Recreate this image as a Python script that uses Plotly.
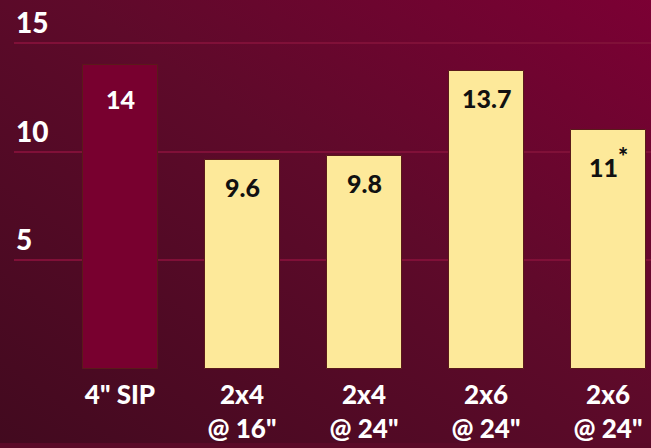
import base64
import plotly.graph_objects as go

categories = ['4" SIP', '2x4<br>@ 16"', '2x4<br>@ 24"', '2x6<br>@ 24"', '2x6<br>@ 24"']
values = [14, 9.6, 9.8, 13.7, 11]
value_labels = ['14', '9.6', '9.8', '13.7', '11<sup><span style="font-size:24px">*</span></sup>']
bar_colors = ['#78002f', '#fde99a', '#fde99a', '#fde99a', '#fde99a']
label_colors = ['#ffffff', '#111111', '#111111', '#111111', '#111111']
y_ticks = [5, 10, 15]

FONT = 'Lato'
x = list(range(len(categories)))

svg = '''<svg xmlns="http://www.w3.org/2000/svg" width="651" height="448" viewBox="0 0 651 448" preserveAspectRatio="none">
<defs><linearGradient id="g" x1="0" y1="1" x2="1" y2="0">
<stop offset="0" stop-color="#420a1f"/>
<stop offset="0.55" stop-color="#5e0a2a"/>
<stop offset="1" stop-color="#7c0034"/>
</linearGradient></defs>
<rect width="651" height="448" fill="url(#g)"/></svg>'''
bg_src = 'data:image/svg+xml;base64,' + base64.b64encode(svg.encode()).decode()

fig = go.Figure()
fig.add_trace(go.Bar(
    x=x, y=values, width=0.615,
    marker=dict(color=bar_colors, line=dict(color='#5a1a1a', width=1)),
    hoverinfo='skip',
))

annotations = []
for i, (xi, v, t, c) in enumerate(zip(x, values, value_labels, label_colors)):
    annotations.append(dict(
        x=xi, y=v, xref='x', yref='y', text=t, showarrow=False,
        yanchor='top', yshift=-17 if i == 0 else -10,
        font=dict(family=FONT, size=25, color=c, weight=900)))
for t in y_ticks:
    annotations.append(dict(
        x=0, xref='paper', y=t, yref='y', text='%d' % t, showarrow=False,
        xanchor='left', yanchor='bottom', yshift=2,
        font=dict(family=FONT, size=28, color='#ffffff', weight=900)))

fig.update_layout(
    width=651, height=448,
    margin=dict(l=14, r=0, t=32, b=79),
    paper_bgcolor='#5a0a28', plot_bgcolor='rgba(0,0,0,0)',
    images=[dict(source=bg_src, xref='paper', yref='paper', x=-0.03, y=1.12,
                 sizex=1.03, sizey=1.34, sizing='stretch', layer='below',
                 xanchor='left', yanchor='top')],
    showlegend=False,
    bargap=0,
    annotations=annotations,
    xaxis=dict(range=[-0.869, 4.352], tickvals=x, ticktext=categories,
               tickfont=dict(family=FONT, size=26, color='#ffffff', weight=900), showgrid=False,
               zeroline=False, showline=False, ticks='', ticklabelstandoff=8),
    yaxis=dict(range=[0, 15.5], tickvals=[0] + y_ticks, showticklabels=False,
               showgrid=True, gridcolor='#801038', gridwidth=2, zeroline=False, ticks=''),
)

fig.write_html('out.html', config={'displayModeBar': False},
               post_script="document.body.style.margin='0';document.body.style.overflow='hidden';")
